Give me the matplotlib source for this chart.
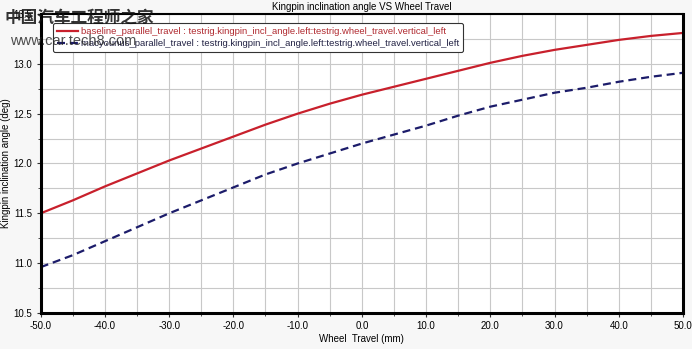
import matplotlib.pyplot as plt
from matplotlib.ticker import MultipleLocator, FormatStrFormatter

# wheel travel (mm) and kingpin inclination (deg) for the two setups
travel = [-50, -45, -40, -35, -30, -25, -20, -15, -10, -5, 0,
          5, 10, 15, 20, 25, 30, 35, 40, 45, 50]
baseline = [11.50, 11.63, 11.77, 11.90, 12.03, 12.15, 12.27, 12.39, 12.50, 12.60, 12.69,
            12.77, 12.85, 12.93, 13.01, 13.08, 13.14, 13.19, 13.24, 13.28, 13.31]
macyounus = [10.96, 11.08, 11.22, 11.36, 11.50, 11.63, 11.76, 11.89, 12.00, 12.10, 12.20,
             12.29, 12.38, 12.48, 12.57, 12.64, 12.71, 12.76, 12.82, 12.87, 12.91]

suffix = " : testrig.kingpin_incl_angle.left:testrig.wheel_travel.vertical_left"
names = ["baseline_parallel_travel" + suffix, "macyounus_parallel_travel" + suffix]

plt.rcParams['font.family'] = ['Liberation Sans', 'DejaVu Sans']

fig = plt.figure(figsize=(6.92, 3.49), dpi=100, facecolor='#f7f7f7')
ax = fig.add_axes([0.0588, 0.1032, 0.9282, 0.8567])
ax.set_facecolor('white')

ax.plot(travel, baseline, color='#c8202c', lw=1.6, label=names[0])
ax.plot(travel, macyounus, color='#1c1c6a', lw=1.6, dashes=(3.6, 2.2), label=names[1])

ax.set_xlim(-50, 50)
ax.set_ylim(10.5, 13.5)
ax.xaxis.set_major_locator(MultipleLocator(10))
ax.xaxis.set_minor_locator(MultipleLocator(5))
ax.yaxis.set_major_locator(MultipleLocator(0.5))
ax.yaxis.set_minor_locator(MultipleLocator(0.25))
ax.xaxis.set_major_formatter(FormatStrFormatter('%.1f'))
ax.yaxis.set_major_formatter(FormatStrFormatter('%.1f'))
ax.grid(True, which='both', color='#c8c8c8', lw=0.8)
ax.set_axisbelow(True)
ax.tick_params(which='both', direction='out', labelsize=7, color='#333333')
ax.tick_params(which='major', length=3, pad=3)
ax.tick_params(which='minor', length=2)

for side in ['left', 'bottom', 'right']:
    ax.spines[side].set_linewidth(2.2)
ax.spines['top'].set_linewidth(1.5)

ax.set_xlabel("Wheel  Travel (mm)", fontsize=7, labelpad=2)
ax.set_ylabel("Kingpin inclination angle (deg)", fontsize=7, labelpad=2)
ax.set_title("Kingpin inclination angle VS Wheel Travel", fontsize=7, pad=3)

leg = ax.legend(loc='upper left', bbox_to_anchor=(0.012, 0.985), fontsize=6.8,
                handlelength=2.2, handletextpad=0.3, borderpad=0.4,
                labelspacing=0.3, fancybox=True, framealpha=1, edgecolor='#333333')
leg.get_frame().set_linewidth(0.8)
leg.get_texts()[0].set_color('#b02a30')
leg.get_texts()[1].set_color('#222244')

# site watermark
fig.text(0.007, 0.935, "中国汽车工程师之家", fontsize=12, fontweight='bold',
         family=['Noto Sans CJK SC', 'DejaVu Sans'], color='#111111', alpha=0.85)
fig.text(0.014, 0.872, "www.car.tech8.com", fontsize=10.5, color='#222222', alpha=0.8)

fig.savefig("out.png", dpi=100, facecolor=fig.get_facecolor())
